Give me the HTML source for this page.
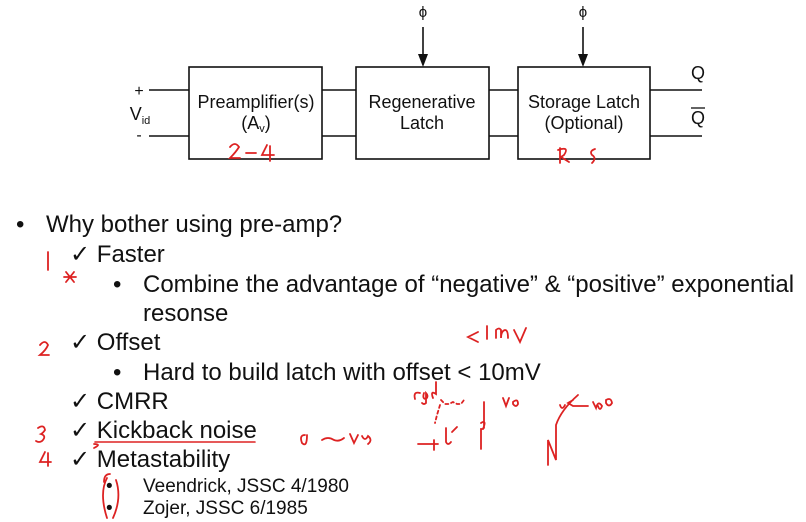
<!DOCTYPE html>
<html><head><meta charset="utf-8"><style>
body{margin:0;width:806px;height:522px;background:#fff;overflow:hidden;position:relative;font-family:"Liberation Sans",sans-serif;color:#111}
.t{position:absolute;white-space:nowrap;font-size:24px;line-height:1}
.s{position:absolute;white-space:nowrap;font-size:19px;line-height:1}
svg{position:absolute;left:0;top:0}
</style></head><body>
<svg width="806" height="522" viewBox="0 0 806 522">
<g stroke="#111" stroke-width="1.6" fill="none">
<rect x="189" y="67" width="133" height="92"/>
<rect x="356" y="67" width="133" height="92"/>
<rect x="518" y="67" width="132" height="92"/>
<line x1="149" y1="90" x2="189" y2="90"/><line x1="149" y1="136" x2="189" y2="136"/>
<line x1="322" y1="90" x2="356" y2="90"/><line x1="322" y1="136" x2="356" y2="136"/>
<line x1="489" y1="90" x2="518" y2="90"/><line x1="489" y1="136" x2="518" y2="136"/>
<line x1="650" y1="90" x2="702" y2="90"/><line x1="650" y1="136" x2="702" y2="136"/>
<line x1="423" y1="27" x2="423" y2="55"/><line x1="583" y1="27" x2="583" y2="55"/>
</g>
<polygon points="418,54 428,54 423,67" fill="#111"/>
<polygon points="578,54 588,54 583,67" fill="#111"/>
<g font-family="Liberation Sans,sans-serif" fill="#111" text-anchor="middle" font-size="18">
<text x="423" y="17" font-size="15">ϕ</text><text x="583" y="17" font-size="15">ϕ</text>
<text x="256" y="108">Preamplifier(s)</text><text x="256" y="129">(A<tspan font-size="11" dy="3">v</tspan><tspan dy="-3">)</tspan></text>
<text x="422" y="108">Regenerative</text><text x="422" y="129">Latch</text>
<text x="584" y="108">Storage Latch</text><text x="584" y="129">(Optional)</text>
<text x="698" y="79" font-size="18">Q</text><text x="698" y="124" font-size="18">Q</text>
<text x="139" y="96" font-size="16">+</text><text x="139" y="140" font-size="16">-</text>
<text x="140" y="120" font-size="18">V<tspan font-size="11" dy="4">id</tspan></text>
</g>
<line x1="691" y1="108" x2="705" y2="108" stroke="#111" stroke-width="1.3"/>
<g stroke="#d22" stroke-width="1.8" fill="none" stroke-linecap="round">
<path d="M230 147 q5-6 9 0 q-3 5-9 11 h10"/><path d="M246 153 h10"/><path d="M267 145 l-5 10 h12 M270 146 v15"/>
<path d="M560 148 v15 M558 150 q12-4 6 5 l-3 2 l8 5 M595 149 q-6 2-3 6 q5 3 0 8"/>
<path d="M48 252 v18"/><path d="M66 272 l8 10 M74 272 l-8 10 M64 277 h12"/>
<path d="M40 345 q5-6 8 0 q-2 5-8 10 h9"/><path d="M38 428 q6-4 7 2 q-2 3-4 4 q6 2 1 7 q-3 2-6 0"/>
<path d="M45 452 l-5 10 h11 M48 453 v13"/><path d="M107 478 q-8 15 0 40 M116 480 q6 18 -3 38 M110 474 q-6 0-6 8"/>
<path d="M94 444 q8 0 0 4"/><path d="M95 442 h160" stroke-width="1.6"/>
<path d="M478 332 l-10 5 l10 5 M487 326 v13 M496 338 v-8 q3-3 5 0 v8 q0-7 4-8 q3 0 3 8 M514 330 l6 12 l6-14"/>
<path d="M305 435 q-6 0-3 8 q5 5 5-8 M322 440 q6-4 12 0 q5 2 10-2 M350 434 l4 9 l4-8 M362 436 q3 6 6 0 q5 4 0 8"/>
<path d="M420 393 q-7-2-5 6 M424 393 q-2 6 2 6 q3-3 0-6 v10 q-2 2-4 0 M436 382 v12 q-6-4-3 4"/>
<path d="M441 400 l4 4 h4 l4-2 l4 2 h4 l3-4" stroke-dasharray="3 3"/><path d="M440 405 l-3 10 l-2 8" stroke-dasharray="3 3"/>
<path d="M418 444 h20 M434 440 v10 M446 428 v14 q2 4 5 0 M452 432 l5 -5 M484 402 v26 M481 423 q6-4 2 6 l-2 0 v20"/>
<path d="M503 398 l3 8 l3-8 M513 402 q5-4 5 2 q-2 4-5 0 z"/>
<path d="M548 465 v-25 l8 20 v-35 q5-15 22-30 M560 405 q2 6 5 0 M573 400 l-5 3 l5 3 h15 M593 402 l3 6 q2-8 6-2 q-2 6-4 0 M606 400 q5-3 6 3 q-3 5-6 0 z"/>
</g>
</svg>
<div class="t" style="left:16px;top:213px">•</div>
<div class="t" style="left:46px;top:213px">Why bother using pre-amp?</div>
<div class="t" style="left:70px;top:243px">✓ Faster</div>
<div class="t" style="left:113px;top:273px">•</div>
<div class="t" style="left:143px;top:273px">Combine the advantage of “negative” &amp; “positive” exponential</div>
<div class="t" style="left:143px;top:302px">resonse</div>
<div class="t" style="left:70px;top:331px">✓ Offset</div>
<div class="t" style="left:113px;top:361px">•</div>
<div class="t" style="left:143px;top:361px">Hard to build latch with offset &lt; 10mV</div>
<div class="t" style="left:70px;top:390px">✓ CMRR</div>
<div class="t" style="left:70px;top:419px">✓ Kickback noise</div>
<div class="t" style="left:70px;top:448px">✓ Metastability</div>
<div class="s" style="left:106px;top:477px">•</div>
<div class="s" style="left:143px;top:477px">Veendrick, JSSC 4/1980</div>
<div class="s" style="left:106px;top:499px">•</div>
<div class="s" style="left:143px;top:499px">Zojer, JSSC 6/1985</div>
</body></html>
